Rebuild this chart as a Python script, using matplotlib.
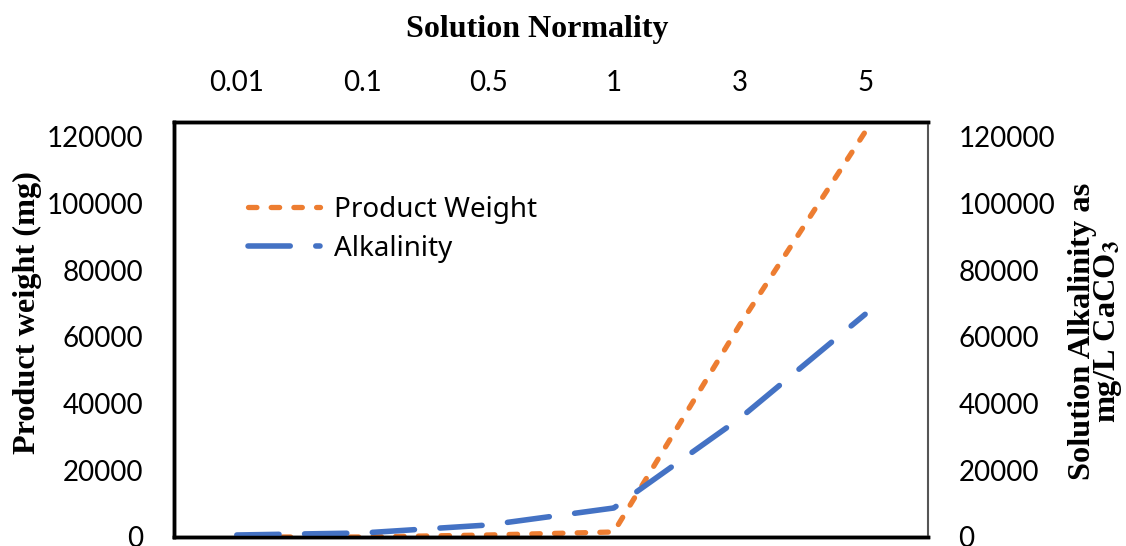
import matplotlib.pyplot as plt

normality = ['0.01', '0.1', '0.5', '1', '3', '5']
product_weight = [0, 0, 600, 1500, 63500, 121500]
alkalinity = [600, 1200, 3600, 8700, 35500, 66800]
yticks = [0, 20000, 40000, 60000, 80000, 100000, 120000]

orange = '#ED7D31'
blue = '#4472C4'
tick_font = 'Lato'
title_font = 'Liberation Serif'
W, H = 1126, 546

fig = plt.figure(figsize=(W / 100, H / 100), dpi=100)
ax = fig.add_axes([0.1545, 0.0165, 0.6696, 0.7601])
ax2 = ax.twinx()

x = range(len(normality))
l1, = ax.plot(x, product_weight, color=orange, lw=3.8, dashes=(1.6, 2.7),
              dash_capstyle='round', solid_capstyle='round', label='Product Weight')
l2, = ax2.plot(x, alkalinity, color=blue, lw=4.0, dashes=(7.6, 4.6),
               dash_capstyle='round', solid_capstyle='round', label='Alkalinity')

for a in (ax, ax2):
    a.set_xlim(-0.5, 5.5)
    a.set_ylim(0, 124500)
    a.set_yticks(yticks)
    a.tick_params(length=0, labelsize=20, pad=22)
    for lab in a.get_yticklabels():
        lab.set_family(tick_font)

ax.xaxis.tick_top()
ax.set_xticks(list(x))
ax.set_xticklabels(normality, family=tick_font, fontsize=20)
ax.tick_params(axis='x', pad=19)

# axis titles
fig.text(537 / W, 1 - 30 / H, 'Solution Normality', family=title_font,
         fontweight='bold', fontsize=23, ha='center', va='center')
fig.text(27 / W, 1 - 313 / H, 'Product weight (mg)', family=title_font,
         fontweight='bold', fontsize=23.2, rotation=90, ha='center', va='center')
fig.text(1096 / W, 1 - 331 / H, 'Solution Alkalinity as\nmg/L CaCO$_{\\mathbf{3}}$',
         family=title_font, fontweight='bold', fontsize=23.3, rotation=90,
         ha='center', va='center', linespacing=0.8, math_fontfamily='stix')

for s in ['top', 'left', 'bottom']:
    ax.spines[s].set_linewidth(2.5)
    ax2.spines[s].set_linewidth(2.5)
ax2.spines['right'].set_color('#555555')
ax2.spines['right'].set_linewidth(1.5)
ax.spines['right'].set_visible(False)

leg = ax.legend(handles=[l1, l2], loc='upper left',
                bbox_to_anchor=(248 / W, 1 - 196 / H), bbox_transform=fig.transFigure,
                borderaxespad=0, borderpad=0, frameon=False,
                handlelength=2.6, handletextpad=0.5,
                prop={'family': 'Noto Sans', 'size': 20}, labelspacing=0.39)

fig.savefig('out.png', dpi=100)
